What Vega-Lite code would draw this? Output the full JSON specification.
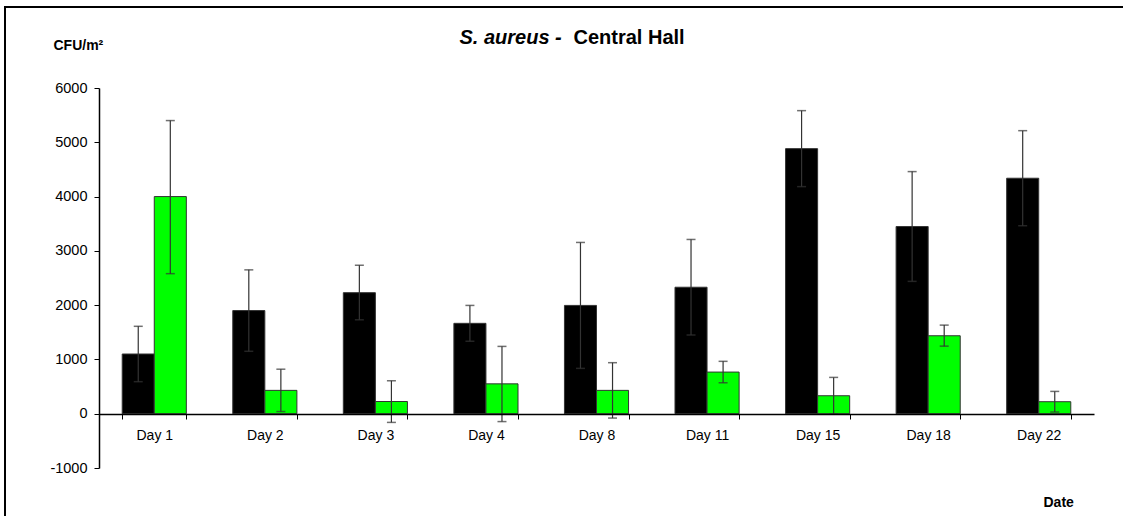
{
  "$schema": "https://vega.github.io/schema/vega-lite/v6.json",
  "autosize": "none",
  "padding": {"left": 5, "top": 7, "right": 0, "bottom": 0},
  "width": 1118,
  "height": 509,
  "background": "white",
  "config": {
    "view": {"stroke": "black", "strokeWidth": 2, "strokeDash": [1118, 1627, 509]},
    "axis": {"labelFont": "Liberation Sans", "titleFont": "Liberation Sans", "labelColor": "black", "titleColor": "black", "domainColor": "black", "tickColor": "black", "grid": false}
  },
  "data": {
    "values": [
      {"day": "Day 1", "series": "Series 1", "value": 1100, "lo": 590, "hi": 1610},
      {"day": "Day 1", "series": "Series 2", "value": 4000, "lo": 2580, "hi": 5400},
      {"day": "Day 2", "series": "Series 1", "value": 1900, "lo": 1150, "hi": 2650},
      {"day": "Day 2", "series": "Series 2", "value": 430, "lo": 40, "hi": 820},
      {"day": "Day 3", "series": "Series 1", "value": 2230, "lo": 1730, "hi": 2735},
      {"day": "Day 3", "series": "Series 2", "value": 225, "lo": -160, "hi": 607},
      {"day": "Day 4", "series": "Series 1", "value": 1665, "lo": 1335, "hi": 1995},
      {"day": "Day 4", "series": "Series 2", "value": 550, "lo": -145, "hi": 1240},
      {"day": "Day 8", "series": "Series 1", "value": 1995, "lo": 835, "hi": 3155},
      {"day": "Day 8", "series": "Series 2", "value": 430, "lo": -80, "hi": 940},
      {"day": "Day 11", "series": "Series 1", "value": 2330, "lo": 1450, "hi": 3210},
      {"day": "Day 11", "series": "Series 2", "value": 767, "lo": 570, "hi": 965},
      {"day": "Day 15", "series": "Series 1", "value": 4883, "lo": 4183, "hi": 5583},
      {"day": "Day 15", "series": "Series 2", "value": 331, "lo": -10, "hi": 669},
      {"day": "Day 18", "series": "Series 1", "value": 3448, "lo": 2438, "hi": 4460},
      {"day": "Day 18", "series": "Series 2", "value": 1436, "lo": 1245, "hi": 1632},
      {"day": "Day 22", "series": "Series 1", "value": 4338, "lo": 3463, "hi": 5214},
      {"day": "Day 22", "series": "Series 2", "value": 221, "lo": 31, "hi": 411}
    ]
  },
  "resolve": {"axis": {"x": "independent", "y": "independent"}},
  "layer": [
    {
      "mark": {"type": "bar", "stroke": "#333", "strokeWidth": 1},
      "encoding": {
        "x": {
          "field": "day", "type": "nominal", "sort": null,
          "scale": {"range": [94, 1089], "paddingInner": 0.42, "paddingOuter": 0.21},
          "axis": {
            "title": "Date", "titleFontSize": 14, "titleFontWeight": "bold",
            "titleAngle": 0, "titleAlign": "left", "titleBaseline": "alphabetic",
            "titleX": 1038, "titleY": 92,
            "labelAngle": 0, "labelFontSize": 14, "labelPadding": 9,
            "tickBand": "extent", "tickSize": 5, "offset": -102, "zindex": 1,
            "domainWidth": 1.5
          }
        },
        "xOffset": {"field": "series", "type": "nominal", "sort": null},
        "y": {
          "field": "value", "type": "quantitative",
          "scale": {"domain": [-1000, 6000], "nice": false, "range": [461, 81]},
          "axis": {
            "title": "CFU/m²", "titleFontSize": 14, "titleFontWeight": "bold",
            "titleAngle": 0, "titleAlign": "left", "titleBaseline": "alphabetic",
            "titleX": -46, "titleY": 42,
            "values": [-1000, 0, 1000, 2000, 3000, 4000, 5000, 6000],
            "labelExpr": "'' + datum.value",
            "labelFontSize": 14.5, "labelPadding": 7, "tickSize": 5, "domainWidth": 1.5,
            "offset": -94
          }
        },
        "color": {
          "field": "series", "type": "nominal",
          "scale": {"domain": ["Series 1", "Series 2"], "range": ["#000000", "#00FF00"]},
          "legend": null
        }
      }
    },
    {
      "mark": {"type": "rule", "color": "#333", "strokeWidth": 1.2},
      "encoding": {
        "x": {
          "field": "day", "type": "nominal", "sort": null,
          "axis": {
            "orient": "top", "title": "Central Hall", "titleFontSize": 20, "titleFontWeight": "bold",
            "titleAngle": 0, "titleAlign": "left", "titleBaseline": "alphabetic",
            "titleX": 568, "titleY": 36,
            "labels": false, "ticks": false, "domain": false
          }
        },
        "xOffset": {"field": "series", "type": "nominal", "sort": null},
        "y": {
          "field": "lo", "type": "quantitative",
          "axis": {
            "orient": "right", "title": "S. aureus -", "titleFontSize": 20, "titleFontWeight": "bold",
            "titleFontStyle": "italic",
            "titleAngle": 0, "titleAlign": "left", "titleBaseline": "alphabetic",
            "titleX": -664, "titleY": 36,
            "labels": false, "ticks": false, "domain": false
          }
        },
        "y2": {"field": "hi"}
      }
    },
    {
      "mark": {"type": "tick", "color": "#333", "thickness": 1.5, "size": 9, "orient": "horizontal"},
      "encoding": {
        "x": {"field": "day", "type": "nominal", "sort": null, "axis": null},
        "xOffset": {"field": "series", "type": "nominal", "sort": null},
        "y": {"field": "lo", "type": "quantitative", "axis": null}
      }
    },
    {
      "mark": {"type": "tick", "color": "#333", "thickness": 1.5, "size": 9, "orient": "horizontal"},
      "encoding": {
        "x": {"field": "day", "type": "nominal", "sort": null, "axis": null},
        "xOffset": {"field": "series", "type": "nominal", "sort": null},
        "y": {"field": "hi", "type": "quantitative", "axis": null}
      }
    }
  ]
}
